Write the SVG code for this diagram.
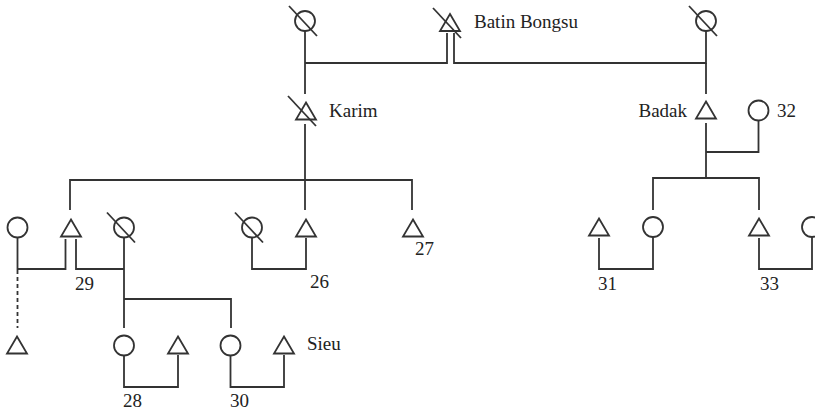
<svg xmlns="http://www.w3.org/2000/svg" xmlns:xlink="http://www.w3.org/1999/xlink" width="815" height="412" viewBox="0 0 815 412">
  <style>
    .sym { fill: none; stroke: #333; stroke-width: 1.8; }
    .ln { fill: none; stroke: #333; stroke-width: 1.8; stroke-linejoin: miter; }
    .dash { stroke-dasharray: 4 3; }
    .lbl { font-family: "Liberation Serif", "Times New Roman", serif; font-size: 19px; fill: #222; }
  </style>
  <defs>
    <!-- male: triangle, female: circle, deceased: diagonal stroke -->
    <path id="male" class="sym" d="M0,-8.5 L10,8.5 L-10,8.5 Z"/>
    <circle id="female" class="sym" r="10"/>
    <line id="dead" class="sym" x1="-16" y1="-15" x2="12" y2="15"/>
  </defs>
  <rect width="815" height="412" fill="#fff"/>

  <g id="connectors" class="ln">
    <!-- first generation marriages -->
    <polyline points="305,31 305,94"/>
    <polyline points="305,63 447,63 447,33"/>
    <polyline points="454,33 454,63 706,63 706,31"/>
    <polyline points="706,63 706,94"/>
    <!-- Karim's children -->
    <polyline points="305,124 305,210"/>
    <polyline points="70,210 70,180 412,180 412,210"/>
    <!-- Badak and 32, children -->
    <polyline points="706,123 706,178"/>
    <polyline points="758.5,120 758.5,152 706,152"/>
    <polyline points="653,210 653,178 759,178 759,210"/>
    <!-- third generation couples -->
    <polyline points="17.5,237.5 17.5,269 65.5,269 65.5,239"/>
    <polyline points="76,239 76,269 124,269"/>
    <polyline points="124,237.5 124,328"/>
    <polyline points="124,299 231,299 231,328"/>
    <polyline class="dash" points="17.5,270 17.5,328"/>
    <polyline points="252,237.5 252,269 306,269 306,238"/>
    <polyline points="599,238 599,269 653,269 653,237"/>
    <polyline points="759,238 759,269 812,269 812,237"/>
    <!-- fourth generation couples -->
    <polyline points="124,355.5 124,387 178,387 178,355"/>
    <polyline points="230.5,355.5 230.5,387 284,387 284,355"/>
  </g>

  <g id="n-gm1"><use xlink:href="#female" x="305" y="21"/><use xlink:href="#dead" x="305" y="21"/></g>
  <g id="n-batin"><use xlink:href="#male" x="450" y="22.5"/><use xlink:href="#dead" x="449" y="23"/>
    <text class="lbl" x="474" y="28">Batin Bongsu</text></g>
  <g id="n-gm2"><use xlink:href="#female" x="706" y="21"/><use xlink:href="#dead" x="705" y="21"/></g>

  <g id="n-karim"><use xlink:href="#male" x="306" y="111"/><use xlink:href="#dead" x="304" y="111"/>
    <text class="lbl" x="329" y="117">Karim</text></g>
  <g id="n-badak"><use xlink:href="#male" x="706" y="110"/>
    <text class="lbl" x="687" y="117" text-anchor="end">Badak</text></g>
  <g id="n-32"><use xlink:href="#female" x="758.5" y="110.5"/>
    <text class="lbl" x="777" y="117">32</text></g>

  <g id="n-f1"><use xlink:href="#female" x="17.5" y="227.5"/></g>
  <g id="n-29"><use xlink:href="#male" x="71" y="228"/>
    <text class="lbl" x="75" y="290">29</text></g>
  <g id="n-w29"><use xlink:href="#female" x="124" y="227.5"/><use xlink:href="#dead" x="123" y="227.5"/></g>
  <g id="n-w26"><use xlink:href="#female" x="252" y="227.5"/><use xlink:href="#dead" x="251" y="227.5"/></g>
  <g id="n-26"><use xlink:href="#male" x="306" y="228"/>
    <text class="lbl" x="310" y="288">26</text></g>
  <g id="n-27"><use xlink:href="#male" x="413" y="228"/>
    <text class="lbl" x="415" y="255">27</text></g>
  <g id="n-31"><use xlink:href="#male" x="599" y="227"/>
    <text class="lbl" x="598" y="290">31</text></g>
  <g id="n-w31"><use xlink:href="#female" x="653" y="227"/></g>
  <g id="n-33"><use xlink:href="#male" x="759" y="227"/>
    <text class="lbl" x="760" y="290">33</text></g>
  <g id="n-w33"><use xlink:href="#female" x="812" y="227"/></g>

  <g id="n-m1"><use xlink:href="#male" x="17" y="345"/></g>
  <g id="n-28w"><use xlink:href="#female" x="124" y="345.5"/></g>
  <g id="n-28"><use xlink:href="#male" x="178" y="345"/>
    <text class="lbl" x="123" y="407">28</text></g>
  <g id="n-30w"><use xlink:href="#female" x="230.5" y="345.5"/></g>
  <g id="n-sieu"><use xlink:href="#male" x="284" y="345"/>
    <text class="lbl" x="307" y="350">Sieu</text>
    <text class="lbl" x="230" y="407">30</text></g>
</svg>
